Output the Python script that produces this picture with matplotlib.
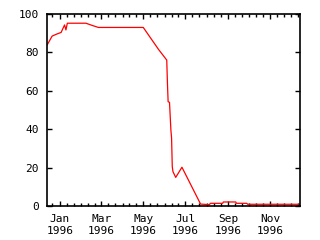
import matplotlib
matplotlib.use('Agg')
import matplotlib.pyplot as plt
import matplotlib.dates as mdates
import numpy as np

# data
dates = ['1995-12-14', '1995-12-21', '1995-12-28', '1996-01-03', '1996-01-08',
         '1996-01-10', '1996-01-12', '1996-02-08', '1996-02-15', '1996-02-20',
         '1996-02-26', '1996-05-01', '1996-05-23', '1996-06-04', '1996-06-05',
         '1996-06-06', '1996-06-08', '1996-06-10', '1996-06-11', '1996-06-12',
         '1996-06-13', '1996-06-17', '1996-06-26', '1996-07-23', '1996-08-05',
         '1996-08-06', '1996-08-24', '1996-08-25', '1996-09-12', '1996-09-13',
         '1996-09-28', '1996-09-29', '1996-12-14']
values = [84, 88.5, 89.6, 90.4, 94.3,
          91.7, 95.2, 95.2, 94.3, 93.7,
          93, 93, 81.6, 76, 64,
          54.3, 54, 39.6, 35.4, 20.5,
          17.9, 14.9, 20.2, 1.0, 0.7,
          1.4, 1.4, 2.1, 2.1, 1.4,
          1.4, 0.9, 0.9]
yticks = [0, 20, 40, 60, 80, 100]
xlim = ['1995-12-14', '1996-12-14']

plt.rcParams['font.family'] = 'DejaVu Sans Mono'
plt.rcParams['font.size'] = 8

fig = plt.figure(figsize=(3.2, 2.4), dpi=100)
ax = fig.add_axes([47.3/320, 34/240, (300-47.3)/320, 192/240])

x = np.array(dates, dtype='datetime64[D]')
ax.plot(x, values, color='red', linewidth=0.9)

ax.set_xlim(np.datetime64(xlim[0]), np.datetime64(xlim[1]))
ax.set_ylim(0, 100)
ax.set_yticks(yticks)

ax.xaxis.set_major_locator(mdates.MonthLocator(bymonth=[1, 3, 5, 7, 9, 11]))
ax.xaxis.set_minor_locator(mdates.DayLocator(bymonthday=[1, 11, 21]))
ax.xaxis.set_major_formatter(mdates.DateFormatter('%b\n%Y'))

ax.tick_params(which='both', direction='in', top=True, right=True, width=1, color='black')
ax.tick_params(which='major', length=3.8, pad=6)
ax.tick_params(which='minor', length=2.2)
for s in ax.spines.values():
    s.set_linewidth(1.2)

fig.savefig('out.png', dpi=100)
